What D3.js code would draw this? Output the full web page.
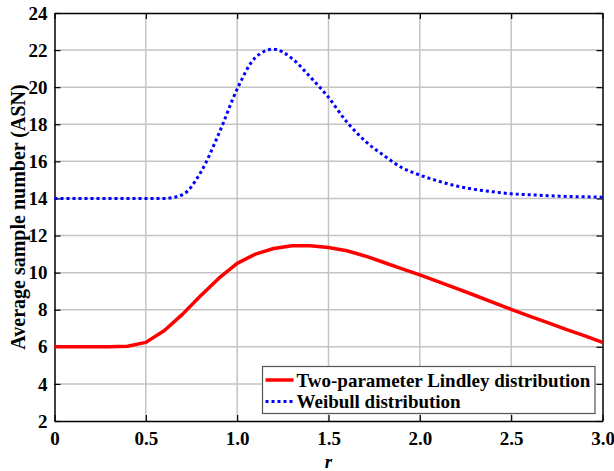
<!DOCTYPE html>
<html>
<head>
<meta charset="utf-8">
<script src="https://cdn.jsdelivr.net/npm/d3@7"></script>
<style>
  body { margin: 0; background: #fff; }
  text { font-family: "Liberation Serif", "Times New Roman", serif; font-weight: bold; }
</style>
</head>
<body>
<svg id="chart" width="614" height="471"></svg>
<script>
"use strict";

const rValues = [0, 0.1, 0.2, 0.3, 0.4, 0.5, 0.6, 0.7, 0.8, 0.9, 1.0, 1.1, 1.2, 1.3, 1.4, 1.5,
                 1.6, 1.7, 1.8, 1.9, 2.0, 2.1, 2.2, 2.3, 2.4, 2.5, 2.6, 2.7, 2.8, 2.9, 3.0];
const lindleyAsn = [6.0, 6.0, 6.0, 6.0, 6.03, 6.24, 6.87, 7.75, 8.75, 9.7, 10.5, 11.0, 11.3, 11.45, 11.45, 11.36,
                    11.18, 10.9, 10.56, 10.22, 9.88, 9.52, 9.15, 8.78, 8.39, 8.02, 7.66, 7.3, 6.94, 6.6, 6.24];
const weibullAsn = [14.0, 14.0, 14.0, 14.0, 14.0, 14.0, 14.0, 14.2, 15.4, 17.5, 19.9, 21.6, 22.05, 21.55, 20.55, 19.45,
                    18.13, 17.1, 16.34, 15.67, 15.26, 14.94, 14.67, 14.49, 14.36, 14.25, 14.2, 14.15, 14.11, 14.09, 14.07];
const xTicks = [0, 0.5, 1.0, 1.5, 2.0, 2.5, 3.0];
const xTickLabels = ["0", "0.5", "1.0", "1.5", "2.0", "2.5", "3.0"];
const yTicks = [2, 4, 6, 8, 10, 12, 14, 16, 18, 20, 22, 24];
const seriesNames = ["Two-parameter Lindley distribution", "Weibull distribution"];

const margin = {left: 54.5, right: 11.5, top: 13, bottom: 50};
const width = 614, height = 471;
const svg = d3.select("#chart");

const x = d3.scaleLinear().domain([0, 3]).range([margin.left, width - margin.right]);
const y = d3.scaleLinear().domain([2, 24]).range([height - margin.bottom, margin.top]);

// grid
const grid = svg.append("g").attr("stroke", "#c4c4c4").attr("stroke-width", 1.5);
grid.selectAll(".gx").data(xTicks.slice(1, -1)).join("line")
    .attr("x1", d => x(d)).attr("x2", d => x(d))
    .attr("y1", y(2)).attr("y2", y(24));
grid.selectAll(".gy").data(yTicks.slice(1, -1)).join("line")
    .attr("x1", x(0)).attr("x2", x(3))
    .attr("y1", d => y(d)).attr("y2", d => y(d));

// axes with inward ticks
const tickFmt = (d) => xTickLabels[xTicks.indexOf(d)];
svg.append("g").attr("transform", `translate(0,${y(2)})`)
    .call(d3.axisBottom(x).tickValues(xTicks).tickFormat(tickFmt).tickSizeInner(-6).tickSizeOuter(0).tickPadding(11));
svg.append("g").attr("transform", `translate(0,${y(24)})`)
    .call(d3.axisTop(x).tickValues(xTicks).tickFormat("").tickSizeInner(-6).tickSizeOuter(0));
svg.append("g").attr("transform", `translate(${x(0)},0)`)
    .call(d3.axisLeft(y).tickValues(yTicks).tickFormat(d3.format("d")).tickSizeInner(-6).tickSizeOuter(0).tickPadding(7));
svg.append("g").attr("transform", `translate(${x(3)},0)`)
    .call(d3.axisRight(y).tickValues(yTicks).tickFormat("").tickSizeInner(-6).tickSizeOuter(0));

svg.selectAll(".domain").attr("stroke", "#000").attr("stroke-width", 1.5);
svg.selectAll(".tick line").attr("stroke", "#000").attr("stroke-width", 1.2);
svg.selectAll(".tick text").attr("font-size", 19).attr("fill", "#000")
    .attr("font-family", "'Liberation Serif', serif").attr("font-weight", "bold");

// lines
const lineLinear = d3.line().x((d, i) => x(rValues[i])).y(d => y(d));
const lineSmooth = d3.line().x((d, i) => x(rValues[i])).y(d => y(d)).curve(d3.curveMonotoneX);
svg.append("path").datum(lindleyAsn).attr("d", lineLinear)
    .attr("fill", "none").attr("stroke", "#ff0000").attr("stroke-width", 3.5).attr("stroke-linejoin", "round");
svg.append("path").datum(weibullAsn).attr("d", lineSmooth)
    .attr("fill", "none").attr("stroke", "#0000ff").attr("stroke-width", 3).attr("stroke-dasharray", "3,3");

// axis labels
svg.append("text").attr("x", x(1.5)).attr("y", 468).attr("text-anchor", "middle")
    .attr("font-size", 19).attr("font-style", "italic").text("r");
svg.append("text").attr("transform", `translate(25,${y(13)}) rotate(-90)`)
    .attr("text-anchor", "middle").attr("font-size", 20).text("Average sample number (ASN)");

// legend
const legend = svg.append("g").attr("transform", "translate(262.5,366.5)");
legend.append("rect").attr("width", 332.5).attr("height", 47)
    .attr("fill", "#fff").attr("stroke", "#555").attr("stroke-width", 1.2);
const legendStyles = [{stroke: "#ff0000", dash: null, w: 3.5}, {stroke: "#0000ff", dash: "3,3", w: 3}];
legend.selectAll(".item").data(seriesNames).join("g")
    .attr("transform", (d, i) => `translate(0,${13.5 + i * 21.5})`)
    .each(function (d, i) {
        const g = d3.select(this);
        g.append("line").attr("x1", 3).attr("x2", 31).attr("y1", 0).attr("y2", 0)
            .attr("stroke", legendStyles[i].stroke).attr("stroke-width", legendStyles[i].w)
            .attr("stroke-dasharray", legendStyles[i].dash);
        g.append("text").attr("x", 34).attr("y", 6.5).attr("font-size", 19).text(d);
    });
</script>
</body>
</html>
